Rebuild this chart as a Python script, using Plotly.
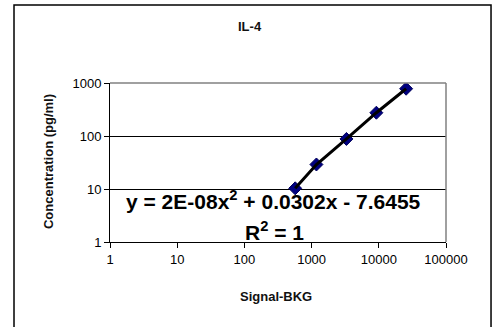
import plotly.graph_objects as go

# Data
signal_bkg = [570, 1180, 3300, 9200, 25500]
concentration = [10.3, 29, 88, 275, 780]
x_ticks = [1, 10, 100, 1000, 10000, 100000]
x_tick_labels = ["1", "10", "100", "1000", "10000", "100000"]
y_ticks = [1, 10, 100, 1000]
y_tick_labels = ["1", "10", "100", "1000"]

title_text = "IL-4"
x_title = "Signal-BKG"
y_title = "Concentration (pg/ml)"
eq_text = "y = 2E-08x<sup>2</sup> + 0.0302x - 7.6455"
r2_text = "R<sup>2</sup> = 1"

FONT = "Liberation Sans, Arial, sans-serif"

fig = go.Figure()

fig.add_trace(go.Scatter(
    x=signal_bkg, y=concentration, mode="markers",
    marker=dict(symbol="diamond", size=10, color="#000080",
                line=dict(color="#00005a", width=1)),
    showlegend=False, hoverinfo="x+y"))

# trendline drawn over the markers
fig.add_trace(go.Scatter(
    x=signal_bkg, y=concentration, mode="lines",
    line=dict(color="black", width=3),
    showlegend=False, hoverinfo="skip"))

axis_common = dict(
    type="log", showline=True, linecolor="black", linewidth=1,
    ticks="outside", ticklen=5, tickcolor="black", tickwidth=1,
    tickfont=dict(family=FONT, size=13, color="black"),
    zeroline=False, mirror=False, fixedrange=True,
)

fig.update_xaxes(**axis_common, range=[0, 5], tickvals=x_ticks,
                 ticktext=x_tick_labels, showgrid=False)
fig.update_yaxes(**axis_common, range=[0, 3], tickvals=y_ticks,
                 ticktext=y_tick_labels, showgrid=True,
                 gridcolor="black", gridwidth=1)

def ann(text, x, y, size, angle=0, color="#111"):
    return dict(text=text, x=x, y=y, xref="paper", yref="paper",
                xanchor="center", yanchor="middle", showarrow=False,
                textangle=angle, font=dict(family=FONT, size=size, color=color))

annotations = [
    ann("<b>%s</b>" % title_text, 0.4167, 1.358, 13),
    ann("<b>%s</b>" % x_title, 0.494, -0.34, 13),
    ann("<b>%s</b>" % y_title, -0.1845, 0.503, 13, angle=-90),
    ann("<b>%s</b>" % eq_text, 0.488, 0.265, 21, color="black"),
    ann("<b>%s</b>" % r2_text, 0.49, 0.07, 21, color="black"),
]

shapes = [
    # plot-area top/right border (gray)
    dict(type="line", xref="paper", yref="paper", x0=0, x1=1, y0=1, y1=1,
         line=dict(color="#808080", width=1.5), layer="above"),
    dict(type="line", xref="paper", yref="paper", x0=1, x1=1, y0=0, y1=1,
         line=dict(color="#808080", width=1.5), layer="above"),
    # outer chart border
    dict(type="rect", xref="paper", yref="paper", x0=-0.2857, x1=1.134,
         y0=-0.6, y1=1.4906, line=dict(color="black", width=1.5), layer="below"),
]

fig.update_layout(
    width=498, height=327,
    margin=dict(l=110, r=52, t=83, b=85),
    paper_bgcolor="white", plot_bgcolor="white",
    annotations=annotations, shapes=shapes,
    font=dict(family=FONT),
)

fig.write_html("out.html", config={"displayModeBar": False})
